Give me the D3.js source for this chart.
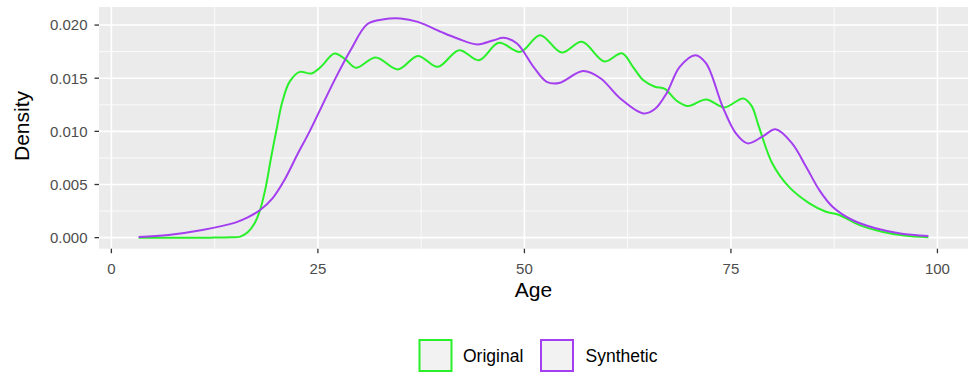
<!DOCTYPE html>
<html lang="en">
<head>
  <meta charset="UTF-8" />
  <title>Age density - Original vs Synthetic</title>
  <script src="https://d3js.org/d3.v7.min.js"></script>
  <style>
    body {
      margin: 0;
      padding: 0;
      background: white;
      font-family: "Liberation Sans", Arial, sans-serif;
    }
    .tick-label {
      fill: #4d4d4d;
      font-size: 15px;
    }
    .axis-title {
      fill: black;
      font-size: 21px;
    }
    .legend-text {
      fill: black;
      font-size: 17.5px;
    }
  </style>
</head>
<body>
  <svg id="chart" width="971" height="376"></svg>

  <script>
    // ages / densities
    const originalAge = [3.3, 8, 12, 14.5, 15.6, 16.5, 17.3, 18, 18.7, 19.3, 20.0, 20.7, 21.6, 22.8, 24.2, 25.4,
      27.0, 28.3, 29.6, 32.0, 34.7, 37.1, 39.5, 42.1, 44.5, 46.9, 49.5, 51.9, 54.5, 56.95, 59.7, 61.8,
      63.2, 64.4, 65.8, 67.0, 68.4, 69.8, 72.0, 74.2, 76.5, 77.5, 78.4, 80.0, 82.0, 84.5, 86.5, 88.1,
      90.5, 93.3, 96, 98.9];
    const originalDensity = [0.0000, 0.0000, 0.0000, 0.00003, 0.0001, 0.0005, 0.0013, 0.0026, 0.0048, 0.0074, 0.0102, 0.0128, 0.0147, 0.0156, 0.01545, 0.0161,
      0.01733, 0.0168, 0.01598, 0.01695, 0.01583, 0.0171, 0.01607, 0.01764, 0.0167, 0.01833, 0.01748, 0.01905, 0.01742, 0.01842, 0.01658, 0.01735,
      0.0160, 0.0148, 0.0142, 0.0140, 0.0129, 0.01238, 0.0130, 0.01225, 0.0131, 0.0124, 0.0104, 0.0070, 0.0048, 0.00323, 0.00244, 0.00213,
      0.0012, 0.00056, 0.0002, 0.00004];

    const syntheticAge = [3.3, 6.9, 11, 15, 16.5, 18, 19.5, 21, 22.5, 24, 25.5, 27, 29, 31, 33, 35,
      37.1, 39.9, 41.9, 44.3, 46.3, 47.5, 49.1, 51.1, 52.7, 54.2, 57.1, 59.2, 61.6, 64.4, 65.8, 67.2,
      68.8, 70.7, 72, 74, 75.6, 77.0, 78.8, 80.4, 82.4, 84.1, 85.7, 87.3, 89.7, 92.5, 95.5, 98.9];
    const syntheticDensity = [0.00005, 0.00025, 0.00072, 0.00141, 0.0019, 0.0026, 0.0037, 0.0055, 0.0078, 0.0100, 0.0124, 0.0148, 0.0177, 0.0201, 0.02055, 0.02062,
      0.0203, 0.01936, 0.01874, 0.01818, 0.01858, 0.0188, 0.01827, 0.01607, 0.01466, 0.01455, 0.01567, 0.0150, 0.0131, 0.01169, 0.0121, 0.01357,
      0.01607, 0.01717, 0.01639, 0.01231, 0.00981, 0.00887, 0.0095, 0.01019, 0.00887, 0.00667, 0.00448, 0.00291, 0.00166, 0.00088, 0.0004, 0.00016];

    const xTicks = [0, 25, 50, 75, 100];
    const yTicks = [0, 0.005, 0.010, 0.015, 0.020];
    const xMinor = [12.5, 37.5, 62.5, 87.5];
    const yMinor = [0.0025, 0.0075, 0.0125, 0.0175];

    const seriesNames = ["Original", "Synthetic"];
    const seriesColors = ["#29f029", "#a43ff0"];

    const series = [
      { name: seriesNames[0], color: seriesColors[0], pts: originalAge.map((a, i) => [a, originalDensity[i]]) },
      { name: seriesNames[1], color: seriesColors[1], pts: syntheticAge.map((a, i) => [a, syntheticDensity[i]]) }
    ];

    const panel = { left: 99, right: 968, top: 7, bottom: 248.7 };

    const x = d3.scaleLinear().domain([-1.5, 103.7]).range([panel.left, panel.right]);
    const y = d3.scaleLinear().domain([-0.00104, 0.0217]).range([panel.bottom, panel.top]);

    const svg = d3.select("#chart");

    // panel background
    svg.append("rect")
      .attr("x", panel.left)
      .attr("y", panel.top)
      .attr("width", panel.right - panel.left)
      .attr("height", panel.bottom - panel.top)
      .attr("fill", "#ebebeb");

    // minor grid
    svg.selectAll(".x-minor")
      .data(xMinor)
      .join("line")
      .attr("x1", d => x(d)).attr("x2", d => x(d))
      .attr("y1", panel.top).attr("y2", panel.bottom)
      .attr("stroke", "white").attr("stroke-width", 0.8);

    svg.selectAll(".y-minor")
      .data(yMinor)
      .join("line")
      .attr("y1", d => y(d)).attr("y2", d => y(d))
      .attr("x1", panel.left).attr("x2", panel.right)
      .attr("stroke", "white").attr("stroke-width", 0.8);

    // major grid
    svg.selectAll(".x-major")
      .data(xTicks)
      .join("line")
      .attr("x1", d => x(d)).attr("x2", d => x(d))
      .attr("y1", panel.top).attr("y2", panel.bottom)
      .attr("stroke", "white").attr("stroke-width", 1.6);

    svg.selectAll(".y-major")
      .data(yTicks)
      .join("line")
      .attr("y1", d => y(d)).attr("y2", d => y(d))
      .attr("x1", panel.left).attr("x2", panel.right)
      .attr("stroke", "white").attr("stroke-width", 1.6);

    // ticks
    svg.selectAll(".x-tick")
      .data(xTicks)
      .join("line")
      .attr("x1", d => x(d)).attr("x2", d => x(d))
      .attr("y1", panel.bottom).attr("y2", panel.bottom + 4.5)
      .attr("stroke", "#333").attr("stroke-width", 1.3);

    svg.selectAll(".y-tick")
      .data(yTicks)
      .join("line")
      .attr("y1", d => y(d)).attr("y2", d => y(d))
      .attr("x1", panel.left - 4.5).attr("x2", panel.left)
      .attr("stroke", "#333").attr("stroke-width", 1.3);

    // tick labels
    svg.selectAll(".x-label")
      .data(xTicks)
      .join("text")
      .attr("class", "tick-label")
      .attr("x", d => x(d))
      .attr("y", 273.5)
      .attr("text-anchor", "middle")
      .text(d => d);

    svg.selectAll(".y-label")
      .data(yTicks)
      .join("text")
      .attr("class", "tick-label")
      .attr("x", panel.left - 11.5)
      .attr("y", d => y(d))
      .attr("dy", "0.36em")
      .attr("text-anchor", "end")
      .text(d => d3.format(".3f")(d));

    // axis titles
    svg.append("text")
      .attr("class", "axis-title")
      .attr("x", (panel.left + panel.right) / 2)
      .attr("y", 297)
      .attr("text-anchor", "middle")
      .text("Age");

    svg.append("text")
      .attr("class", "axis-title")
      .attr("transform", `translate(29,126) rotate(-90)`)
      .attr("text-anchor", "middle")
      .text("Density");

    // density curves
    const line = d3.line()
      .x(d => x(d[0]))
      .y(d => y(d[1]))
      .curve(d3.curveCatmullRom.alpha(0.5));

    svg.selectAll(".density")
      .data(series)
      .join("path")
      .attr("fill", "none")
      .attr("stroke", d => d.color)
      .attr("stroke-width", 2)
      .attr("d", d => line(d.pts));

    // legend
    const legendX = [419.5, 541];
    const legendTextX = [463, 585.5];
    const legendG = svg.append("g");

    legendG.selectAll("rect")
      .data(series)
      .join("rect")
      .attr("x", (d, i) => legendX[i])
      .attr("y", 340)
      .attr("width", 32)
      .attr("height", 31)
      .attr("fill", "#f2f2f2")
      .attr("stroke", d => d.color)
      .attr("stroke-width", 2);

    legendG.selectAll("text")
      .data(series)
      .join("text")
      .attr("class", "legend-text")
      .attr("x", (d, i) => legendTextX[i])
      .attr("y", 361.5)
      .text(d => d.name);
  </script>
</body>
</html>
